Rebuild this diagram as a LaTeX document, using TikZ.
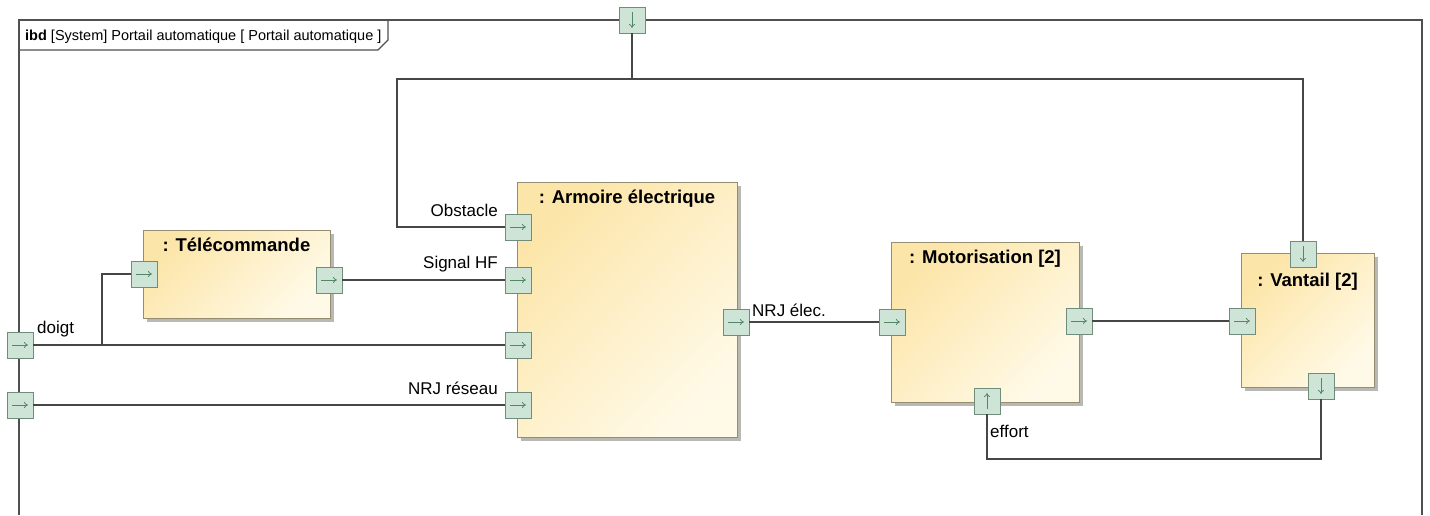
\documentclass[tikz,border=0pt]{standalone}
\usepackage{fontspec}
\setmainfont{Liberation Sans}
\usetikzlibrary{arrows.meta,positioning,shadows}
\definecolor{ibdFrame}{RGB}{80,80,80}
\definecolor{ibdWire}{RGB}{70,70,70}
\definecolor{ibdPortFill}{RGB}{206,228,214}
\definecolor{ibdPortDraw}{RGB}{112,140,122}
\definecolor{ibdPortArrow}{RGB}{84,134,104}
\definecolor{ibdPartA}{RGB}{252,229,168}
\definecolor{ibdPartB}{RGB}{255,250,232}
\definecolor{ibdPartDraw}{RGB}{150,140,112}
\definecolor{ibdShadow}{RGB}{185,185,180}

\begin{document}
\begin{tikzpicture}[
  x=1pt, y=-1pt,
  frame/.style={draw=ibdFrame, line width=1.2pt},
  wire/.style={draw=ibdWire, line width=1.1pt},
  part/.style={
    draw=ibdPartDraw,
    line width=1pt,
    top color=ibdPartA,
    bottom color=ibdPartB,
    shading angle=45,
    drop shadow={shadow xshift=4pt, shadow yshift=-4pt, fill=ibdShadow, opacity=1},
    inner sep=0pt
  },
  parttitle/.style={font=\bfseries\fontsize{18.5}{22}\selectfont, inner sep=0pt},
  port/.style={
    draw=ibdPortDraw,
    fill=ibdPortFill,
    line width=0.8pt,
    minimum width=26pt,
    minimum height=26pt,
    inner sep=0pt
  },
  portR/.style={port, path picture={
    \draw[ibdPortArrow, line width=0.8pt, -{To[length=4pt,width=6pt]}]
      ([xshift=5pt]path picture bounding box.west) -- ([xshift=-5pt]path picture bounding box.east);}},
  portD/.style={port, path picture={
    \draw[ibdPortArrow, line width=0.8pt, -{To[length=4pt,width=6pt]}]
      ([yshift=-5pt]path picture bounding box.north) -- ([yshift=5pt]path picture bounding box.south);}},
  portU/.style={port, path picture={
    \draw[ibdPortArrow, line width=0.8pt, -{To[length=4pt,width=6pt]}]
      ([yshift=5pt]path picture bounding box.south) -- ([yshift=-5pt]path picture bounding box.north);}},
  lbl/.style={font=\fontsize{17}{20}\selectfont, inner sep=0pt}
]
  \useasboundingbox[fill=white] (0,0) rectangle (1430,515);

  \draw[frame] (19,515) -- (19,20) -- (1422,20) -- (1422,515);
  \draw[frame] (19,50) -- (378,50) -- (388,40) -- (388,20);
  \node[anchor=base west, inner sep=0pt, font=\fontsize{14.5}{18}\selectfont] (diagtitle) at (25,40)
    {\textbf{ibd} [System] Portail automatique [ Portail automatique ]};

  \node[part, minimum width=187pt, minimum height=88pt] (tele) at (236.5,274) {};
  \node[parttitle, below=8pt of tele.north] (teletitle) {: Télécommande};
  \node[part, minimum width=220pt, minimum height=255pt] (armoire) at (627,309.5) {};
  \node[parttitle, below=8pt of armoire.north] (armoiretitle) {: Armoire électrique};
  \node[part, minimum width=188pt, minimum height=160pt] (motor) at (985,322) {};
  \node[parttitle, below=8.5pt of motor.north] (motortitle) {: Motorisation [2]};
  \node[part, minimum width=133pt, minimum height=134pt] (vantail) at (1307.5,320) {};
  \node[parttitle, below=20pt of vantail.north] (vantailtitle) {: Vantail [2]};

  \coordinate (busTop) at (632,79);
  \coordinate (busLeft) at (397,79);
  \coordinate (doigtSplit) at (102,345);
  \coordinate (effortLow) at (987,459);

  \node[portD] (frameIn) at (632,20) {};
  \node[portR] (doigtIn) at (20,345) {};
  \node[portR] (reseauIn) at (20,405) {};
  \node[portR] (teleIn) at (144,274) {};
  \node[portR] (teleOut) at (329,280) {};
  \node[portR] (armObs) at (518,227) {};
  \node[portR] (armSig) at (518,280) {};
  \node[portR] (armDoigt) at (518,345) {};
  \node[portR] (armNrj) at (518,405) {};
  \node[portR] (armOut) at (736,322) {};
  \node[portR] (motIn) at (892,322) {};
  \node[portR] (motOut) at (1079,321) {};
  \node[portU] (motEff) at (987,401) {};
  \node[portD] (vanTop) at (1303,254) {};
  \node[portR] (vanIn) at (1242,321) {};
  \node[portD] (vanOut) at (1321,386) {};

  \draw[wire] (frameIn) -- (busTop);
  \draw[wire] (armObs) -| (busLeft) -| (vanTop);
  \draw[wire] (doigtIn) -- (armDoigt);
  \draw[wire] (doigtSplit) |- (teleIn);
  \draw[wire] (teleOut) -- (armSig);
  \draw[wire] (reseauIn) -- (armNrj);
  \draw[wire] (armOut) -- (motIn);
  \draw[wire] (motOut) -- (vanIn);
  \draw[wire] (motEff) -- (effortLow) -| (vanOut);

  \node[lbl, anchor=base west] (doigtLbl) at (37,333) {doigt};
  \node[lbl, anchor=base east] (obsLbl) at (498,216) {Obstacle};
  \node[lbl, anchor=base east] (sigLbl) at (498,268) {Signal HF};
  \node[lbl, anchor=base east] (nrjResLbl) at (498,394) {NRJ réseau};
  \node[lbl, anchor=base west] (nrjElecLbl) at (752,316) {NRJ élec.};
  \node[lbl, anchor=base west] (effortLbl) at (990,437) {effort};
\end{tikzpicture}
\end{document}
